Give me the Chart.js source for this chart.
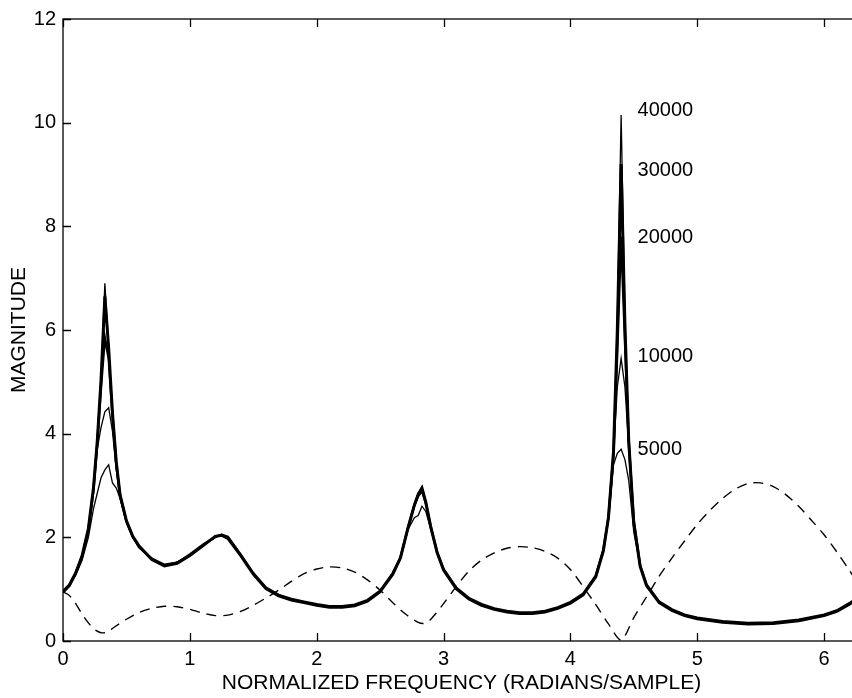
<!DOCTYPE html>
<html>
<head>
<meta charset="utf-8">
<script src="https://cdn.jsdelivr.net/npm/chart.js@4.4.1/dist/chart.umd.min.js"></script>
<style>
    html, body { margin: 0; padding: 0; background: #fff; overflow: hidden; }
    #wrap { width: 870px; height: 698px; }
</style>
</head>
<body>
<div id="wrap"><canvas id="spectrumChart" width="870" height="698"></canvas></div>
<script>
// frequency grid (radians/sample) shared by the five estimates
const freq = [0, 0.05, 0.1, 0.15, 0.2, 0.24, 0.27, 0.3, 0.33, 0.36,
    0.39, 0.42, 0.45, 0.5, 0.55, 0.6, 0.7, 0.8, 0.9, 1.0,
    1.1, 1.2, 1.25, 1.3, 1.4, 1.5, 1.6, 1.7, 1.8, 1.9,
    2.0, 2.1, 2.2, 2.3, 2.4, 2.5, 2.6, 2.66, 2.72, 2.77,
    2.8, 2.83, 2.86, 2.9, 2.95, 3.0, 3.1, 3.2, 3.3, 3.4,
    3.5, 3.6, 3.7, 3.8, 3.9, 4.0, 4.1, 4.2, 4.26, 4.3,
    4.34, 4.37, 4.4, 4.43, 4.46, 4.5, 4.55, 4.6, 4.7, 4.8,
    4.9, 5.0, 5.2, 5.4, 5.6, 5.8, 6.0, 6.1, 6.2, 6.283];

const mag40000 = [0.95, 1.08, 1.3, 1.62, 2.15, 2.95, 3.85, 5.1, 6.9, 5.7,
    4.4, 3.45, 2.8, 2.3, 2.0, 1.82, 1.58, 1.46, 1.52, 1.66,
    1.84, 2.0, 2.06, 2.0, 1.66, 1.3, 1.02, 0.88, 0.8, 0.75,
    0.7, 0.66, 0.66, 0.69, 0.78, 0.96, 1.3, 1.62, 2.2, 2.65,
    2.85, 2.98, 2.7, 2.2, 1.7, 1.38, 1.02, 0.82, 0.7, 0.62,
    0.57, 0.54, 0.54, 0.57, 0.64, 0.74, 0.9, 1.25, 1.75, 2.4,
    3.7, 6.2, 10.15, 6.3, 3.9, 2.3, 1.45, 1.08, 0.75, 0.6,
    0.5, 0.44, 0.37, 0.34, 0.35, 0.4, 0.5, 0.58, 0.72, 0.86];

const mag30000 = [0.94, 1.07, 1.31, 1.64, 2.17, 2.95, 3.85, 5.05, 6.65, 5.65,
    4.4, 3.45, 2.82, 2.32, 2.02, 1.83, 1.57, 1.45, 1.5, 1.65,
    1.83, 2.02, 2.04, 1.98, 1.65, 1.29, 1.01, 0.87, 0.79, 0.74,
    0.69, 0.65, 0.65, 0.68, 0.77, 0.95, 1.29, 1.6, 2.18, 2.62,
    2.83, 2.95, 2.68, 2.19, 1.7, 1.37, 1.01, 0.81, 0.69, 0.61,
    0.56, 0.53, 0.53, 0.56, 0.63, 0.73, 0.89, 1.24, 1.74, 2.38,
    3.65, 6.0, 9.2, 6.1, 3.85, 2.28, 1.44, 1.07, 0.74, 0.59,
    0.49, 0.43, 0.36, 0.33, 0.34, 0.39, 0.49, 0.57, 0.71, 0.85];

const mag20000 = [0.96, 1.09, 1.32, 1.63, 2.14, 2.9, 3.8, 4.9, 5.85, 5.45,
    4.35, 3.42, 2.8, 2.31, 2.01, 1.81, 1.59, 1.47, 1.51, 1.67,
    1.85, 2.01, 2.05, 2.01, 1.67, 1.31, 1.03, 0.89, 0.81, 0.76,
    0.71, 0.67, 0.67, 0.7, 0.79, 0.97, 1.31, 1.61, 2.19, 2.62,
    2.8, 2.9, 2.66, 2.2, 1.71, 1.39, 1.03, 0.83, 0.71, 0.63,
    0.58, 0.55, 0.55, 0.58, 0.65, 0.75, 0.91, 1.26, 1.76, 2.38,
    3.6, 5.6, 7.8, 5.8, 3.85, 2.3, 1.46, 1.09, 0.76, 0.61,
    0.51, 0.45, 0.38, 0.35, 0.36, 0.41, 0.51, 0.59, 0.73, 0.87];

const mag10000 = [0.95, 1.07, 1.29, 1.6, 2.12, 2.9, 3.7, 4.12, 4.42, 4.5,
    4.05, 3.3, 2.75, 2.3, 2.01, 1.82, 1.58, 1.46, 1.52, 1.66,
    1.84, 2.0, 2.05, 1.99, 1.66, 1.3, 1.02, 0.88, 0.8, 0.75,
    0.7, 0.66, 0.66, 0.69, 0.78, 0.96, 1.3, 1.61, 2.18, 2.6,
    2.78, 2.88, 2.66, 2.2, 1.7, 1.38, 1.02, 0.82, 0.7, 0.62,
    0.57, 0.54, 0.54, 0.57, 0.64, 0.74, 0.9, 1.25, 1.75, 2.4,
    3.6, 4.9, 5.45, 4.9, 3.75, 2.3, 1.45, 1.08, 0.75, 0.6,
    0.5, 0.44, 0.37, 0.34, 0.35, 0.4, 0.5, 0.58, 0.72, 0.86];

const mag5000 = [0.95, 1.06, 1.27, 1.55, 2.0, 2.55, 2.85, 3.15, 3.3, 3.4,
    3.05, 2.95, 2.75, 2.3, 2.0, 1.82, 1.58, 1.46, 1.52, 1.66,
    1.84, 2.0, 2.05, 1.99, 1.66, 1.3, 1.02, 0.88, 0.8, 0.75,
    0.7, 0.66, 0.66, 0.69, 0.78, 0.96, 1.3, 1.6, 2.15, 2.38,
    2.42, 2.6, 2.5, 2.15, 1.7, 1.38, 1.02, 0.82, 0.7, 0.62,
    0.57, 0.54, 0.54, 0.57, 0.64, 0.74, 0.9, 1.25, 1.75, 2.35,
    3.4, 3.62, 3.7, 3.5, 3.1, 2.1, 1.45, 1.08, 0.75, 0.6,
    0.5, 0.44, 0.37, 0.34, 0.35, 0.4, 0.5, 0.58, 0.72, 0.86];

// dashed curve
const dashFreq = [0, 0.05, 0.1, 0.15, 0.2, 0.25, 0.3, 0.35, 0.4, 0.5,
    0.6, 0.7, 0.8, 0.9, 1.0, 1.1, 1.2, 1.3, 1.4, 1.5,
    1.6, 1.7, 1.8, 1.9, 2.0, 2.1, 2.2, 2.3, 2.4, 2.5,
    2.6, 2.7, 2.8, 2.85, 2.9, 3.0, 3.1, 3.2, 3.3, 3.4,
    3.5, 3.6, 3.7, 3.8, 3.9, 4.0, 4.1, 4.2, 4.3, 4.4,
    4.5, 4.6, 4.7, 4.8, 4.9, 5.0, 5.1, 5.2, 5.3, 5.4,
    5.5, 5.6, 5.7, 5.8, 5.9, 6.0, 6.1, 6.2, 6.283];

const dashMag = [0.95, 0.88, 0.72, 0.52, 0.35, 0.22, 0.16, 0.17, 0.26, 0.42,
    0.55, 0.63, 0.67, 0.66, 0.61, 0.54, 0.49, 0.5, 0.57, 0.69,
    0.83, 0.98, 1.15, 1.3, 1.39, 1.43, 1.41, 1.33, 1.18, 0.98,
    0.74, 0.52, 0.36, 0.34, 0.42, 0.72, 1.05, 1.35, 1.56, 1.7,
    1.79, 1.82, 1.8, 1.73, 1.6, 1.38, 1.05, 0.7, 0.33, 0.02,
    0.45, 0.85, 1.25, 1.6, 1.93, 2.25, 2.52, 2.75, 2.93, 3.04,
    3.05, 2.98, 2.82, 2.6, 2.33, 2.05, 1.72, 1.36, 1.05];

// curve labels (sample counts) and the heights they sit at
const labelText = ["40000", "30000", "20000", "10000", "5000"];
const labelMag = [10.23, 9.07, 7.79, 5.49, 3.69];

const xTicks = [0, 1, 2, 3, 4, 5, 6];
const yTicks = [0, 2, 4, 6, 8, 10, 12];

const FONT = "'Liberation Sans', Arial, Helvetica, sans-serif";

function toPoints(xs, ys) {
    return xs.map((x, i) => ({ x: x, y: ys[i] }));
}

function solid(data, width) {
    return {
        data: toPoints(freq, data),
        borderColor: "#000",
        borderWidth: width,
        pointRadius: 0,
        tension: 0,
        fill: false
    };
}

// MATLAB-ish box with inward ticks, plus the curve labels
const boxPlugin = {
    id: "boxPlugin",
    afterDraw(chart) {
        const ctx = chart.ctx;
        const a = chart.chartArea;
        const xs = chart.scales.x;
        const ys = chart.scales.y;
        const len = 8;

        ctx.save();
        ctx.strokeStyle = "#000";
        ctx.lineWidth = 1.3;
        ctx.strokeRect(a.left, a.top, a.right - a.left, a.bottom - a.top);

        ctx.beginPath();
        xTicks.forEach(v => {
            const px = Math.round(xs.getPixelForValue(v)) + 0.5;
            ctx.moveTo(px, a.bottom);
            ctx.lineTo(px, a.bottom - len);
            ctx.moveTo(px, a.top);
            ctx.lineTo(px, a.top + len);
        });
        yTicks.forEach(v => {
            const py = Math.round(ys.getPixelForValue(v)) + 0.5;
            ctx.moveTo(a.left, py);
            ctx.lineTo(a.left + len, py);
            ctx.moveTo(a.right, py);
            ctx.lineTo(a.right - len, py);
        });
        ctx.stroke();

        ctx.fillStyle = "#000";
        ctx.font = "20px " + FONT;
        ctx.textAlign = "left";
        ctx.textBaseline = "middle";
        labelText.forEach((t, i) => {
            ctx.fillText(t, xs.getPixelForValue(4.53), ys.getPixelForValue(labelMag[i]));
        });
        ctx.restore();
    }
};

const ctx = document.getElementById("spectrumChart");

new Chart(ctx, {
    type: "line",
    data: {
        datasets: [
            solid(mag5000, 1.3),
            solid(mag10000, 1.3),
            solid(mag20000, 2.4),
            solid(mag30000, 3),
            solid(mag40000, 1.3),
            {
                data: toPoints(dashFreq, dashMag),
                borderColor: "#000",
                borderWidth: 1.4,
                borderDash: [10, 7],
                pointRadius: 0,
                tension: 0.3,
                fill: false
            }
        ]
    },
    options: {
        responsive: false,
        animation: false,
        devicePixelRatio: 1,
        layout: { padding: { left: 0, right: 10, top: 14, bottom: 0 } },
        plugins: {
            legend: { display: false },
            tooltip: { enabled: false }
        },
        scales: {
            x: {
                type: "linear",
                min: 0,
                max: 6.2832,
                afterBuildTicks: axis => { axis.ticks = xTicks.map(v => ({ value: v })); },
                afterFit: axis => { axis.height = 57; },
                grid: { display: false, drawTicks: false },
                border: { display: false },
                ticks: {
                    padding: 6,
                    color: "#000",
                    font: { family: FONT, size: 20 },
                    maxRotation: 0
                },
                title: {
                    display: true,
                    text: "NORMALIZED FREQUENCY (RADIANS/SAMPLE)",
                    color: "#000",
                    font: { family: FONT, size: 21 },
                    padding: { top: 0, bottom: 2 }
                }
            },
            y: {
                min: 0,
                max: 12,
                afterBuildTicks: axis => { axis.ticks = yTicks.map(v => ({ value: v })); },
                afterFit: axis => { axis.width = 63; },
                grid: { display: false, drawTicks: false },
                border: { display: false },
                ticks: {
                    padding: 7,
                    color: "#000",
                    font: { family: FONT, size: 20 }
                },
                title: {
                    display: true,
                    text: "MAGNITUDE",
                    color: "#000",
                    font: { family: FONT, size: 21 },
                    padding: { top: 7, bottom: 0 }
                }
            }
        }
    },
    plugins: [boxPlugin]
});
</script>
</body>
</html>
